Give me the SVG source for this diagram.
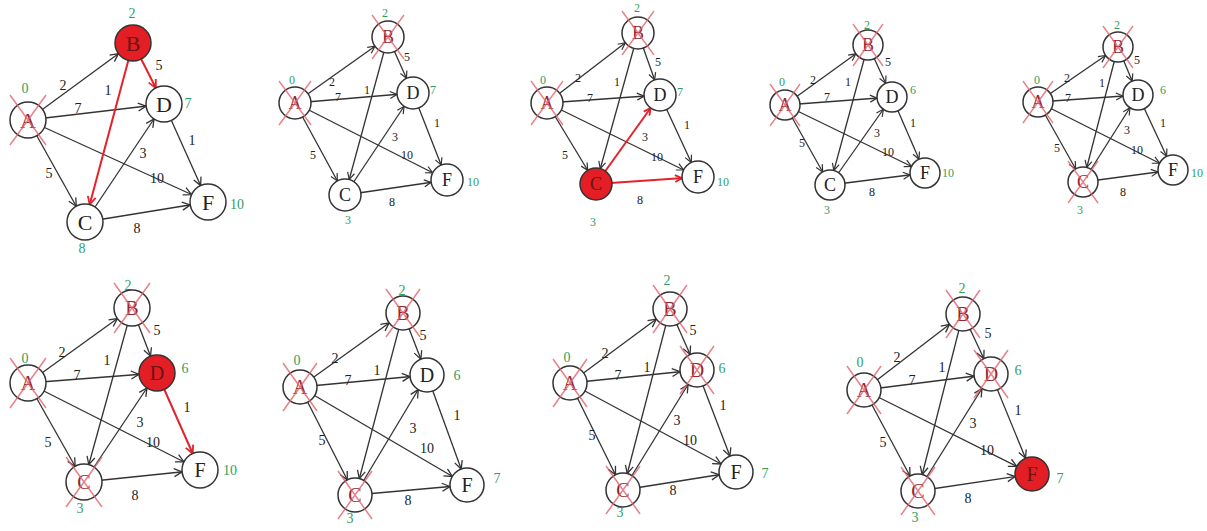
<svg xmlns="http://www.w3.org/2000/svg" xmlns:xlink="http://www.w3.org/1999/xlink" width="1207" height="531" viewBox="0 0 1207 531">
<style>
.e{stroke:#333;stroke-width:1.3;fill:none}
.er{stroke:#e3222b;stroke-width:2;fill:none}
.n circle{fill:#fff;stroke:#333;stroke-width:1.5}
.n.red circle{fill:#e31e24}
.n text{font-family:"Liberation Serif",serif;text-anchor:middle;dominant-baseline:central;fill:#222}
.n.x text{fill:#8e2a30}
.n.red text{fill:#6a1414}
.big text{font-size:22px}
.mid text{font-size:18px}
.lg text{font-size:20px}
.lab{font-family:"Liberation Serif",serif;text-anchor:middle;dominant-baseline:central;fill:#222}
.g{fill:#2f9e5e}
.s14{font-size:14px}
.s12{font-size:12px}
</style>
<defs>
<marker id="a18" markerUnits="userSpaceOnUse" markerWidth="12" markerHeight="12" refX="18" refY="0" orient="auto" style="overflow:visible"><path d="M-8,-4L0,0L-8,4" fill="none" stroke="#333" stroke-width="1.3"/></marker>
<marker id="a17" markerUnits="userSpaceOnUse" markerWidth="12" markerHeight="12" refX="17" refY="0" orient="auto" style="overflow:visible"><path d="M-8,-4L0,0L-8,4" fill="none" stroke="#333" stroke-width="1.3"/></marker>
<marker id="a16" markerUnits="userSpaceOnUse" markerWidth="12" markerHeight="12" refX="16" refY="0" orient="auto" style="overflow:visible"><path d="M-7,-3.5L0,0L-7,3.5" fill="none" stroke="#333" stroke-width="1.2"/></marker>
<marker id="a15" markerUnits="userSpaceOnUse" markerWidth="12" markerHeight="12" refX="15" refY="0" orient="auto" style="overflow:visible"><path d="M-7,-3.5L0,0L-7,3.5" fill="none" stroke="#333" stroke-width="1.2"/></marker>
<marker id="r18" markerUnits="userSpaceOnUse" markerWidth="12" markerHeight="12" refX="18" refY="0" orient="auto" style="overflow:visible"><path d="M-8,-4L0,0L-8,4" fill="none" stroke="#e3222b" stroke-width="1.8"/></marker>
<marker id="r16" markerUnits="userSpaceOnUse" markerWidth="12" markerHeight="12" refX="16" refY="0" orient="auto" style="overflow:visible"><path d="M-7,-3.5L0,0L-7,3.5" fill="none" stroke="#e3222b" stroke-width="1.8"/></marker>
<path id="x18" d="M-18,-25L18,25M18,-25L-18,25" fill="none" stroke="#e5606c" stroke-width="1.5" stroke-opacity="0.8"/>
<path id="x17" d="M-17,-24L17,24M17,-24L-17,24" fill="none" stroke="#e5606c" stroke-width="1.5" stroke-opacity="0.8"/>
<path id="x16" d="M-16,-22L16,22M16,-22L-16,22" fill="none" stroke="#e5606c" stroke-width="1.4" stroke-opacity="0.8"/>
<path id="x15" d="M-15,-21L15,21M15,-21L-15,21" fill="none" stroke="#e5606c" stroke-width="1.4" stroke-opacity="0.8"/>
</defs>
<rect width="1207" height="531" fill="#fff"/>

<g id="connectors">
 <g id="p1-edges">
  <path class="e" marker-end="url(#a18)" d="M28,120L133,43"/>
  <path class="e" marker-end="url(#a18)" d="M28,120L164,104"/>
  <path class="e" marker-end="url(#a18)" d="M28,120L85,222"/>
  <path class="e" marker-end="url(#a18)" d="M28,120L208,202"/>
  <path class="er" marker-end="url(#r18)" d="M133,43L164,104"/>
  <path class="er" marker-end="url(#r18)" d="M133,43L85,222"/>
  <path class="e" marker-end="url(#a18)" d="M85,222L164,104"/>
  <path class="e" marker-end="url(#a18)" d="M85,222L208,202"/>
  <path class="e" marker-end="url(#a18)" d="M164,104L208,202"/>
 </g>
 <g id="p2-edges">
  <path class="e" marker-end="url(#a16)" d="M295,103L388,37"/>
  <path class="e" marker-end="url(#a16)" d="M295,103L413,93"/>
  <path class="e" marker-end="url(#a16)" d="M295,103L345,195"/>
  <path class="e" marker-end="url(#a16)" d="M295,103L447,180"/>
  <path class="e" marker-end="url(#a16)" d="M388,37L413,93"/>
  <path class="e" marker-end="url(#a16)" d="M388,37L345,195"/>
  <path class="e" marker-end="url(#a16)" d="M345,195L413,93"/>
  <path class="e" marker-end="url(#a16)" d="M345,195L447,180"/>
  <path class="e" marker-end="url(#a16)" d="M413,93L447,180"/>
 </g>
 <g id="p3-edges">
  <path class="e" marker-end="url(#a16)" d="M547,103L638,33"/>
  <path class="e" marker-end="url(#a16)" d="M547,103L660,95"/>
  <path class="e" marker-end="url(#a16)" d="M547,103L596,184"/>
  <path class="e" marker-end="url(#a16)" d="M547,103L698,177"/>
  <path class="e" marker-end="url(#a16)" d="M638,33L660,95"/>
  <path class="e" marker-end="url(#a16)" d="M638,33L596,184"/>
  <path class="er" marker-end="url(#r16)" d="M596,184L660,95"/>
  <path class="er" marker-end="url(#r16)" d="M596,184L698,177"/>
  <path class="e" marker-end="url(#a16)" d="M660,95L698,177"/>
 </g>
 <g id="p4-edges">
  <path class="e" marker-end="url(#a15)" d="M785,105L868,45"/>
  <path class="e" marker-end="url(#a15)" d="M785,105L892,97"/>
  <path class="e" marker-end="url(#a15)" d="M785,105L830,185"/>
  <path class="e" marker-end="url(#a15)" d="M785,105L925,173"/>
  <path class="e" marker-end="url(#a15)" d="M868,45L892,97"/>
  <path class="e" marker-end="url(#a15)" d="M868,45L830,185"/>
  <path class="e" marker-end="url(#a15)" d="M830,185L892,97"/>
  <path class="e" marker-end="url(#a15)" d="M830,185L925,173"/>
  <path class="e" marker-end="url(#a15)" d="M892,97L925,173"/>
 </g>
 <g id="p5-edges">
  <path class="e" marker-end="url(#a15)" d="M1038,102L1118,47"/>
  <path class="e" marker-end="url(#a15)" d="M1038,102L1138,95"/>
  <path class="e" marker-end="url(#a15)" d="M1038,102L1083,182"/>
  <path class="e" marker-end="url(#a15)" d="M1038,102L1173,170"/>
  <path class="e" marker-end="url(#a15)" d="M1118,47L1138,95"/>
  <path class="e" marker-end="url(#a15)" d="M1118,47L1083,182"/>
  <path class="e" marker-end="url(#a15)" d="M1083,182L1138,95"/>
  <path class="e" marker-end="url(#a15)" d="M1083,182L1173,170"/>
  <path class="e" marker-end="url(#a15)" d="M1138,95L1173,170"/>
 </g>
 <g id="p6-edges">
  <path class="e" marker-end="url(#a18)" d="M28,383L132,308"/>
  <path class="e" marker-end="url(#a18)" d="M28,383L157,373"/>
  <path class="e" marker-end="url(#a18)" d="M28,383L84,482"/>
  <path class="e" marker-end="url(#a18)" d="M28,383L200,470"/>
  <path class="e" marker-end="url(#a18)" d="M132,308L157,373"/>
  <path class="e" marker-end="url(#a18)" d="M132,308L84,482"/>
  <path class="e" marker-end="url(#a18)" d="M84,482L157,373"/>
  <path class="e" marker-end="url(#a18)" d="M84,482L200,470"/>
  <path class="er" marker-end="url(#r18)" d="M157,373L200,470"/>
 </g>
 <g id="p7-edges">
  <path class="e" marker-end="url(#a17)" d="M300,387L403,313"/>
  <path class="e" marker-end="url(#a17)" d="M300,387L427,375"/>
  <path class="e" marker-end="url(#a17)" d="M300,387L355,495"/>
  <path class="e" marker-end="url(#a17)" d="M300,387L467,485"/>
  <path class="e" marker-end="url(#a17)" d="M403,313L427,375"/>
  <path class="e" marker-end="url(#a17)" d="M403,313L355,495"/>
  <path class="e" marker-end="url(#a17)" d="M355,495L427,375"/>
  <path class="e" marker-end="url(#a17)" d="M355,495L467,485"/>
  <path class="e" marker-end="url(#a17)" d="M427,375L467,485"/>
 </g>
 <g id="p8-edges">
  <path class="e" marker-end="url(#a17)" d="M570,383L670,309"/>
  <path class="e" marker-end="url(#a17)" d="M570,383L697,370"/>
  <path class="e" marker-end="url(#a17)" d="M570,383L623,490"/>
  <path class="e" marker-end="url(#a17)" d="M570,383L736,472"/>
  <path class="e" marker-end="url(#a17)" d="M670,309L697,370"/>
  <path class="e" marker-end="url(#a17)" d="M670,309L623,490"/>
  <path class="e" marker-end="url(#a17)" d="M623,490L697,370"/>
  <path class="e" marker-end="url(#a17)" d="M623,490L736,472"/>
  <path class="e" marker-end="url(#a17)" d="M697,370L736,472"/>
 </g>
 <g id="p9-edges">
  <path class="e" marker-end="url(#a17)" d="M864,390L963,314"/>
  <path class="e" marker-end="url(#a17)" d="M864,390L991,374"/>
  <path class="e" marker-end="url(#a17)" d="M864,390L918,491"/>
  <path class="e" marker-end="url(#a17)" d="M864,390L1032,474"/>
  <path class="e" marker-end="url(#a17)" d="M963,314L991,374"/>
  <path class="e" marker-end="url(#a17)" d="M963,314L918,491"/>
  <path class="e" marker-end="url(#a17)" d="M918,491L991,374"/>
  <path class="e" marker-end="url(#a17)" d="M918,491L1032,474"/>
  <path class="e" marker-end="url(#a17)" d="M991,374L1032,474"/>
 </g>
</g>

<g id="edge-labels" class="lab">
 <g class="s14">
  <text x="63" y="85">2</text><text x="78" y="108">7</text><text x="108" y="90">1</text><text x="159" y="65">5</text><text x="192" y="140">1</text><text x="143" y="153">3</text><text x="157" y="178">10</text><text x="49" y="173">5</text><text x="137" y="228">8</text>
 </g>
 <g class="s12">
  <text x="332" y="82">2</text><text x="338" y="97">7</text><text x="367" y="90">1</text><text x="407" y="57">5</text><text x="437" y="123">1</text><text x="395" y="137">3</text><text x="407" y="155">10</text><text x="313" y="155">5</text><text x="392" y="202">8</text>
  <text x="578" y="78">2</text><text x="590" y="98">7</text><text x="617" y="82">1</text><text x="658" y="62">5</text><text x="687" y="125">1</text><text x="645" y="137">3</text><text x="657" y="157">10</text><text x="565" y="155">5</text><text x="640" y="200">8</text>
  <text x="813" y="80">2</text><text x="827" y="97">7</text><text x="848" y="82">1</text><text x="888" y="62">5</text><text x="913" y="123">1</text><text x="877" y="133">3</text><text x="888" y="152">10</text><text x="802" y="143">5</text><text x="872" y="192">8</text>
  <text x="1067" y="78">2</text><text x="1068" y="98">7</text><text x="1102" y="83">1</text><text x="1137" y="60">5</text><text x="1163" y="123">1</text><text x="1127" y="130">3</text><text x="1137" y="150">10</text><text x="1057" y="148">5</text><text x="1123" y="192">8</text>
 </g>
 <g class="s14">
  <text x="62" y="352">2</text><text x="77" y="375">7</text><text x="107" y="360">1</text><text x="157" y="330">5</text><text x="187" y="407">1</text><text x="140" y="422">3</text><text x="153" y="442">10</text><text x="48" y="442">5</text><text x="135" y="495">8</text>
  <text x="335" y="358">2</text><text x="348" y="380">7</text><text x="377" y="370">1</text><text x="423" y="335">5</text><text x="457" y="415">1</text><text x="413" y="428">3</text><text x="427" y="448">10</text><text x="322" y="440">5</text><text x="408" y="500">8</text>
  <text x="605" y="353">2</text><text x="618" y="375">7</text><text x="647" y="367">1</text><text x="693" y="330">5</text><text x="723" y="405">1</text><text x="677" y="420">3</text><text x="690" y="440">10</text><text x="592" y="435">5</text><text x="673" y="490">8</text>
  <text x="897" y="357">2</text><text x="912" y="380">7</text><text x="942" y="367">1</text><text x="988" y="333">5</text><text x="1018" y="410">1</text><text x="973" y="423">3</text><text x="987" y="450">10</text><text x="883" y="442">5</text><text x="968" y="498">8</text>
 </g>
</g>

<g id="distances" class="lab g">
 <g class="s14">
  <text x="25" y="88">0</text><text x="132" y="13">2</text><text x="188" y="103">7</text><text x="237" y="204">10</text><text x="82" y="248">8</text>
 </g>
 <g class="s12">
  <text x="292" y="80">0</text><text x="385" y="13">2</text><text x="433" y="90">7</text><text x="473" y="182">10</text><text x="348" y="220">3</text>
  <text x="543" y="80">0</text><text x="637" y="8">2</text><text x="680" y="92">7</text><text x="723" y="182">10</text><text x="593" y="222">3</text>
  <text x="782" y="82">0</text><text x="867" y="25">2</text><text x="913" y="90">6</text><text x="948" y="173">10</text><text x="827" y="210">3</text>
  <text x="1037" y="80">0</text><text x="1117" y="25">2</text><text x="1163" y="90">6</text><text x="1197" y="173">10</text><text x="1080" y="210">3</text>
 </g>
 <g class="s14">
  <text x="25" y="358">0</text><text x="128" y="285">2</text><text x="185" y="368">6</text><text x="230" y="470">10</text><text x="80" y="508">3</text>
  <text x="297" y="360">0</text><text x="402" y="290">2</text><text x="457" y="375">6</text><text x="497" y="478">7</text><text x="350" y="518">3</text>
  <text x="567" y="357">0</text><text x="667" y="280">2</text><text x="722" y="368">6</text><text x="765" y="473">7</text><text x="620" y="512">3</text>
  <text x="860" y="362">0</text><text x="962" y="288">2</text><text x="1018" y="370">6</text><text x="1060" y="478">7</text><text x="915" y="517">3</text>
 </g>
</g>

<g id="panel1" class="big">
 <g id="p1-A" class="n x"><circle cx="28" cy="120" r="18"/><text x="28" y="120">A</text><use xlink:href="#x18" x="28" y="120"/></g>
 <g id="p1-B" class="n red"><circle cx="133" cy="43" r="18"/><text x="133" y="43">B</text></g>
 <g id="p1-D" class="n"><circle cx="164" cy="104" r="18"/><text x="164" y="104">D</text></g>
 <g id="p1-C" class="n"><circle cx="85" cy="222" r="18"/><text x="85" y="222">C</text></g>
 <g id="p1-F" class="n"><circle cx="208" cy="202" r="18"/><text x="208" y="202">F</text></g>
</g>
<g id="panel2" class="mid">
 <g id="p2-A" class="n x"><circle cx="295" cy="103" r="16"/><text x="295" y="103">A</text><use xlink:href="#x16" x="295" y="103"/></g>
 <g id="p2-B" class="n x"><circle cx="388" cy="37" r="16"/><text x="388" y="37">B</text><use xlink:href="#x16" x="388" y="37"/></g>
 <g id="p2-D" class="n"><circle cx="413" cy="93" r="16"/><text x="413" y="93">D</text></g>
 <g id="p2-C" class="n"><circle cx="345" cy="195" r="16"/><text x="345" y="195">C</text></g>
 <g id="p2-F" class="n"><circle cx="447" cy="180" r="16"/><text x="447" y="180">F</text></g>
</g>
<g id="panel3" class="mid">
 <g id="p3-A" class="n x"><circle cx="547" cy="103" r="16"/><text x="547" y="103">A</text><use xlink:href="#x16" x="547" y="103"/></g>
 <g id="p3-B" class="n x"><circle cx="638" cy="33" r="16"/><text x="638" y="33">B</text><use xlink:href="#x16" x="638" y="33"/></g>
 <g id="p3-D" class="n"><circle cx="660" cy="95" r="16"/><text x="660" y="95">D</text></g>
 <g id="p3-C" class="n red"><circle cx="596" cy="184" r="16"/><text x="596" y="184">C</text></g>
 <g id="p3-F" class="n"><circle cx="698" cy="177" r="16"/><text x="698" y="177">F</text></g>
</g>
<g id="panel4" class="mid">
 <g id="p4-A" class="n x"><circle cx="785" cy="105" r="15"/><text x="785" y="105">A</text><use xlink:href="#x15" x="785" y="105"/></g>
 <g id="p4-B" class="n x"><circle cx="868" cy="45" r="15"/><text x="868" y="45">B</text><use xlink:href="#x15" x="868" y="45"/></g>
 <g id="p4-D" class="n"><circle cx="892" cy="97" r="15"/><text x="892" y="97">D</text></g>
 <g id="p4-C" class="n"><circle cx="830" cy="185" r="15"/><text x="830" y="185">C</text></g>
 <g id="p4-F" class="n"><circle cx="925" cy="173" r="15"/><text x="925" y="173">F</text></g>
</g>
<g id="panel5" class="mid">
 <g id="p5-A" class="n x"><circle cx="1038" cy="102" r="15"/><text x="1038" y="102">A</text><use xlink:href="#x15" x="1038" y="102"/></g>
 <g id="p5-B" class="n x"><circle cx="1118" cy="47" r="15"/><text x="1118" y="47">B</text><use xlink:href="#x15" x="1118" y="47"/></g>
 <g id="p5-D" class="n"><circle cx="1138" cy="95" r="15"/><text x="1138" y="95">D</text></g>
 <g id="p5-C" class="n x"><circle cx="1083" cy="182" r="15"/><text x="1083" y="182">C</text><use xlink:href="#x15" x="1083" y="182"/></g>
 <g id="p5-F" class="n"><circle cx="1173" cy="170" r="15"/><text x="1173" y="170">F</text></g>
</g>
<g id="panel6" class="lg">
 <g id="p6-A" class="n x"><circle cx="28" cy="383" r="18"/><text x="28" y="383">A</text><use xlink:href="#x18" x="28" y="383"/></g>
 <g id="p6-B" class="n x"><circle cx="132" cy="308" r="18"/><text x="132" y="308">B</text><use xlink:href="#x18" x="132" y="308"/></g>
 <g id="p6-D" class="n red"><circle cx="157" cy="373" r="18"/><text x="157" y="373">D</text></g>
 <g id="p6-C" class="n x"><circle cx="84" cy="482" r="18"/><text x="84" y="482">C</text><use xlink:href="#x18" x="84" y="482"/></g>
 <g id="p6-F" class="n"><circle cx="200" cy="470" r="18"/><text x="200" y="470">F</text></g>
</g>
<g id="panel7" class="lg">
 <g id="p7-A" class="n x"><circle cx="300" cy="387" r="17"/><text x="300" y="387">A</text><use xlink:href="#x17" x="300" y="387"/></g>
 <g id="p7-B" class="n x"><circle cx="403" cy="313" r="17"/><text x="403" y="313">B</text><use xlink:href="#x17" x="403" y="313"/></g>
 <g id="p7-D" class="n"><circle cx="427" cy="375" r="17"/><text x="427" y="375">D</text></g>
 <g id="p7-C" class="n x"><circle cx="355" cy="495" r="17"/><text x="355" y="495">C</text><use xlink:href="#x17" x="355" y="495"/></g>
 <g id="p7-F" class="n"><circle cx="467" cy="485" r="17"/><text x="467" y="485">F</text></g>
</g>
<g id="panel8" class="lg">
 <g id="p8-A" class="n x"><circle cx="570" cy="383" r="17"/><text x="570" y="383">A</text><use xlink:href="#x17" x="570" y="383"/></g>
 <g id="p8-B" class="n x"><circle cx="670" cy="309" r="17"/><text x="670" y="309">B</text><use xlink:href="#x17" x="670" y="309"/></g>
 <g id="p8-D" class="n x"><circle cx="697" cy="370" r="17"/><text x="697" y="370">D</text><use xlink:href="#x17" x="697" y="370"/></g>
 <g id="p8-C" class="n x"><circle cx="623" cy="490" r="17"/><text x="623" y="490">C</text><use xlink:href="#x17" x="623" y="490"/></g>
 <g id="p8-F" class="n"><circle cx="736" cy="472" r="17"/><text x="736" y="472">F</text></g>
</g>
<g id="panel9" class="lg">
 <g id="p9-A" class="n x"><circle cx="864" cy="390" r="17"/><text x="864" y="390">A</text><use xlink:href="#x17" x="864" y="390"/></g>
 <g id="p9-B" class="n x"><circle cx="963" cy="314" r="17"/><text x="963" y="314">B</text><use xlink:href="#x17" x="963" y="314"/></g>
 <g id="p9-D" class="n x"><circle cx="991" cy="374" r="17"/><text x="991" y="374">D</text><use xlink:href="#x17" x="991" y="374"/></g>
 <g id="p9-C" class="n x"><circle cx="918" cy="491" r="17"/><text x="918" y="491">C</text><use xlink:href="#x17" x="918" y="491"/></g>
 <g id="p9-F" class="n red"><circle cx="1032" cy="474" r="17"/><text x="1032" y="474">F</text></g>
</g>
</svg>
